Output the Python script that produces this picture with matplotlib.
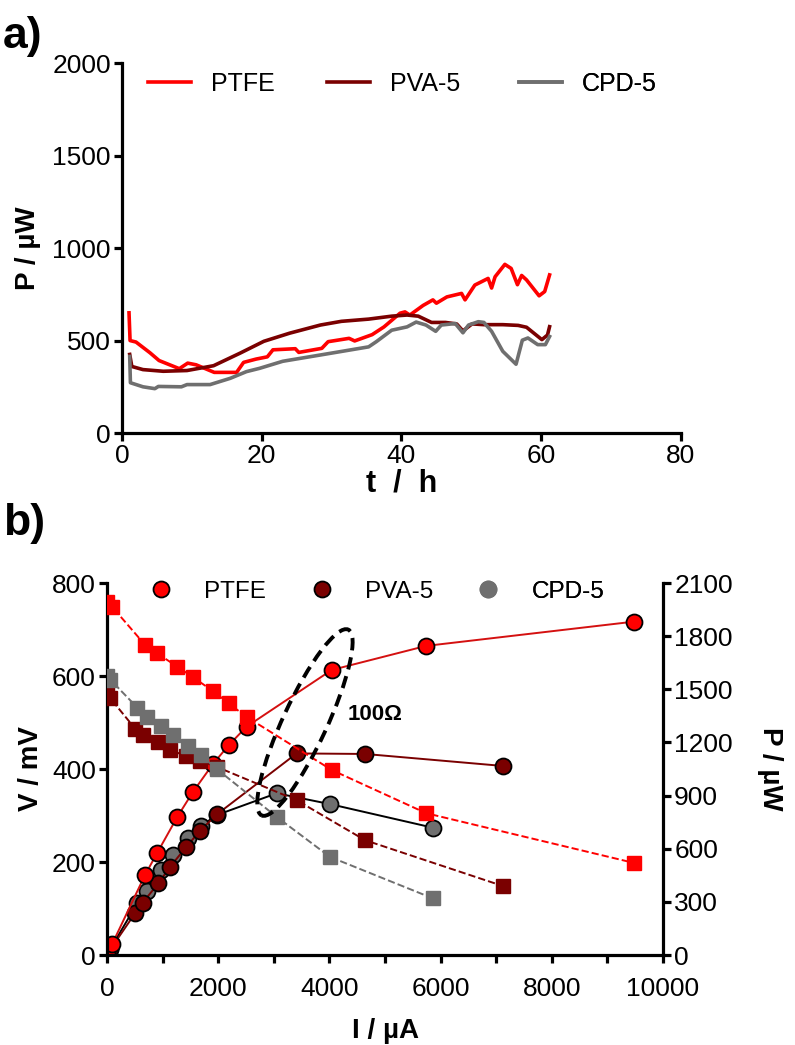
import numpy as np
import matplotlib
matplotlib.use("Agg")
import matplotlib.pyplot as plt
from matplotlib.lines import Line2D
from matplotlib.patches import Ellipse
from matplotlib.transforms import ScaledTranslation

plt.rcParams['font.family'] = ['Liberation Sans', 'DejaVu Sans']

RED = "#ff0000"
DARK = "#7a0000"
GREY = "#6f6f6f"

# panel a: power vs time
t_ptfe = [1.0, 1.15, 2.0, 4.0, 5.3, 8.2, 9.4, 10.6, 13.2, 16.4, 17.4, 19.2, 20.8, 21.6,
          24.8, 25.3, 28.6, 29.5, 32.5, 33.3, 35.8, 37.5, 39.8, 40.5, 41.2, 43.1, 44.5,
          45.0, 46.5, 48.6, 49.1, 50.5, 52.4, 52.9, 53.4, 54.8, 55.7, 56.6, 57.2, 57.9,
          59.7, 60.5, 61.2]
p_ptfe = [650, 500, 492, 434, 392, 348, 378, 369, 328, 328, 382, 400, 412, 450,
          456, 436, 458, 494, 512, 498, 532, 574, 648, 655, 638, 690, 720,
          702, 736, 755, 720, 800, 836, 784, 845, 912, 890, 802, 852, 828,
          742, 765, 855]

t_pva = [1.1, 1.4, 3.0, 5.9, 9.3, 13.1, 16.9, 20.3, 24.0, 28.4, 31.4, 35.3, 38.6, 40.8,
         42.4, 44.3, 46.3, 47.9, 48.8, 50.1, 51.8, 54.5, 56.7, 57.9, 60.1, 60.9, 61.2]
p_pva = [425, 360, 343, 334, 338, 364, 432, 496, 540, 584, 604, 616, 632, 638,
         632, 598, 598, 590, 552, 590, 586, 586, 582, 572, 505, 530, 575]

t_cpd = [1.1, 1.2, 3.0, 4.7, 5.2, 8.5, 9.3, 12.6, 15.5, 17.8, 19.7, 23.0, 28.7, 35.3,
         36.4, 38.6, 40.8, 42.1, 43.5, 44.9, 45.7, 47.7, 48.8, 49.6, 51.0, 51.8, 52.9,
         54.5, 56.4, 57.3, 58.1, 59.5, 60.6, 61.2]
p_cpd = [414, 272, 250, 240, 252, 250, 262, 262, 296, 332, 350, 388, 424, 466,
         494, 556, 574, 600, 584, 550, 584, 592, 542, 584, 602, 598, 550,
         442, 372, 502, 514, 478, 478, 522]

# panel b: polarisation (V) and power (P) curves vs current
i_ptfe = [0, 90, 684, 900, 1265, 1540, 1900, 2190, 2510, 4040, 5740, 9480]
v_ptfe = [760, 749, 667, 649, 620, 598, 568, 541, 512, 398, 305, 198]
pw_ptfe = [5, 60, 452, 575, 780, 918, 1076, 1185, 1289, 1609, 1745, 1882]

i_pva = [0, 60, 504, 640, 925, 1135, 1420, 1675, 1985, 3410, 4640, 7130]
v_pva = [566, 552, 487, 473, 459, 441, 428, 418, 404, 333, 247, 148]
pw_pva = [0, 32, 235, 295, 405, 498, 608, 702, 796, 1138, 1135, 1067]

i_cpd = [0, 60, 545, 714, 970, 1180, 1462, 1690, 1973, 3052, 4010, 5858]
v_cpd = [600, 592, 532, 512, 493, 474, 450, 430, 400, 297, 211, 122]
pw_cpd = [0, 35, 292, 360, 480, 565, 659, 728, 790, 913, 852, 719]

labels = ["PTFE", "PVA-5", "CPD-5"]

FS = 19
LW_SP = 2.3

fig = plt.figure(figsize=(7.95, 10.45), dpi=100)

def style_axis(ax, spines=("left", "bottom"), pad=2):
    for s in ["left", "right", "top", "bottom"]:
        if s in spines:
            ax.spines[s].set_linewidth(LW_SP)
        else:
            ax.spines[s].set_visible(False)
    ax.tick_params(which="both", direction="out", length=6, width=LW_SP, labelsize=FS, pad=pad)

def legend_row(ax, handles, names, xs, y, **kw):
    # one single-entry legend per item, so the column positions can be set freely
    for h, name, x in zip(handles, names, xs):
        leg = ax.legend([h], [name], loc="center left", bbox_to_anchor=(x, y), frameon=False,
                        borderaxespad=0, borderpad=0, **kw)
        ax.add_artist(leg)

# ---- panel a
ax1 = fig.add_axes([0.1535, 0.5856, 0.703, 0.354])
la = ax1.plot(t_ptfe, p_ptfe, color=RED, lw=2.6)[0]
lb = ax1.plot(t_pva, p_pva, color=DARK, lw=2.6)[0]
lc = ax1.plot(t_cpd, p_cpd, color=GREY, lw=2.6)[0]
ax1.set_xlim(0, 80)
ax1.set_ylim(0, 2000)
ax1.set_xticks([0, 20, 40, 60, 80])
ax1.set_yticks([0, 500, 1000, 1500, 2000])
style_axis(ax1)
ax1.set_xlabel("t  /  h", fontsize=22, fontweight="bold", labelpad=0)
ax1.set_ylabel("P / µW", fontsize=20, fontweight="bold", labelpad=8)
legend_row(ax1, [la, lb, lc], labels, [0.0465, 0.3667, 0.71], 0.943,
           fontsize=18, handlelength=1.72, handletextpad=0.8)

# ---- panel b
ax2 = fig.add_axes([0.1346, 0.0861, 0.6994, 0.356])
ax3 = ax2.twinx()
ms_c = 11.5
ms_s = 10.5
ax2.plot(i_ptfe, v_ptfe, ls="--", color=RED, lw=1.4, marker="s", ms=ms_s, mec=RED, zorder=3)
ax2.plot(i_pva, v_pva, ls="--", color=DARK, lw=1.4, marker="s", ms=ms_s, mec=DARK, zorder=3)
ax2.plot(i_cpd, v_cpd, ls="--", color=GREY, lw=1.4, marker="s", ms=ms_s, mec=GREY, zorder=3)

ax3.plot(i_cpd, pw_cpd, ls="-", color="black", lw=1.4, marker="o", ms=ms_c, mfc=GREY, mec="black", mew=1.3)
ax3.plot(i_pva, pw_pva, ls="-", color=DARK, lw=1.4, marker="o", ms=ms_c, mfc=DARK, mec="black", mew=1.3)
ax3.plot(i_ptfe, pw_ptfe, ls="-", color="#d41010", lw=1.4, marker="o", ms=ms_c, mfc=RED, mec="black", mew=1.3)

ax2.set_xlim(0, 10000)
ax2.set_ylim(0, 800)
ax3.set_ylim(0, 2100)
ax2.set_xticks(range(0, 10001, 2000))
ax2.set_xticks(range(1000, 10000, 2000), minor=True)
ax2.set_yticks(range(0, 801, 200))
ax3.set_yticks(range(0, 2101, 300))
style_axis(ax2, spines=("left", "bottom", "right"))
style_axis(ax3, spines=("right",))
ax2.tick_params(axis="x", which="both", pad=10)
ax2.spines["right"].set_visible(False)
ax2.set_xlabel("I / µA", fontsize=20, fontweight="bold", labelpad=12)
ax2.set_ylabel("V / mV", fontsize=20, fontweight="bold", labelpad=6)
ax3.set_ylabel("P / µW", fontsize=20, fontweight="bold", rotation=270, labelpad=36)
for a in (ax2, ax3):
    for sp in a.spines.values():
        sp.set_clip_on(False)
ax2.set_zorder(ax3.get_zorder() + 1)
ax2.patch.set_visible(False)

# 100 Ohm load ellipse
ell = Ellipse((0, 0), 0.44, 2.05, angle=-25, fill=False, ls=(0, (3.2, 1.8)), lw=2.8,
              ec="black", transform=fig.dpi_scale_trans + ScaledTranslation(3560, 500, ax2.transData),
              zorder=6)
ax2.add_patch(ell)
ax2.text(4330, 518, "100Ω", fontsize=16, fontweight="bold", ha="left", va="center", zorder=6)

handles = [Line2D([], [], ls="none", marker="o", ms=ms_c, mfc=c, mec="black" if c != GREY else GREY, mew=1.3)
           for c in (RED, DARK, GREY)]
legend_row(ax2, handles, labels, [0.0755, 0.365, 0.664], 0.976,
           fontsize=17.5, handlelength=1.0, handletextpad=1.27)

fig.text(0.004, 0.965, "a)", fontsize=32, fontweight="bold", va="center")
fig.text(0.004, 0.499, "b)", fontsize=32, fontweight="bold", va="center")

fig.savefig("out.png", dpi=100)
